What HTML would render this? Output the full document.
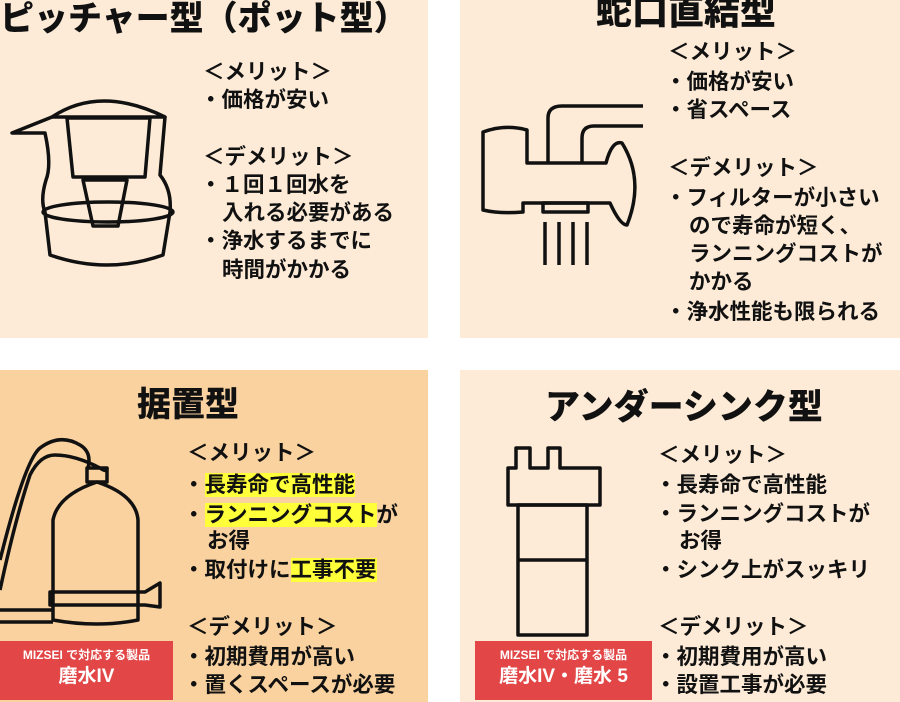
<!DOCTYPE html>
<html><head><meta charset="utf-8">
<style>
*{margin:0;padding:0;box-sizing:border-box}
body{width:900px;height:702px;background:#fff;position:relative;overflow:hidden;font-family:"Liberation Sans","Noto Sans CJK JP",sans-serif;font-weight:bold;color:#111}
.p{position:absolute}
.t{position:absolute;white-space:nowrap;font-size:21.5px;line-height:28px}
.h{position:absolute;white-space:nowrap;font-size:34px;line-height:40px;font-weight:900}
.hl{background:#ffff3a}
.red{position:absolute;background:#e24646;color:#fff;text-align:center}
.red .a{font-size:12px;line-height:16px;margin-top:6px}
.red .b{font-size:19px;line-height:28px}
</style></head><body>
<div class="p" style="left:0;top:0;width:428px;height:338px;background:#fdebd7"></div>
<div class="p" style="left:460px;top:0;width:440px;height:338px;background:#fdebd7"></div>
<div class="p" style="left:0;top:370px;width:428px;height:332px;background:#f9d29f"></div>
<div class="p" style="left:460px;top:370px;width:440px;height:332px;background:#fdebd7"></div>

<svg class="p" style="left:0;top:0" width="900" height="702" fill="none" stroke="#111" stroke-width="3.5" stroke-linejoin="round">
<!-- pitcher -->
<path d="M52 117 Q100 85 165 117 Z"/>
<path d="M52 117 L12 133 L45 133 Q52 165 46 180 Q40 200 45 212 L50 255 Q107 275 163 255 L170 212 Q172 190 160 175 L165 117"/>
<path d="M67 118 L150 118 L145 177 L73 177 Z"/>
<path d="M83 180 L127 180 L118 226 L93 226 Z"/>
<ellipse cx="108" cy="212" rx="65" ry="10"/>
<!-- faucet -->
<path d="M527 163 L527 130 Q505 124 483 132 L483 210 Q500 214 523 212 L523 203 L610 203 Q620 225 627 225 Q645 180 622 143 Q612 140 606 163 Z"/>
<path d="M548 163 L548 118 Q548 106 562 106 L643 106"/>
<path d="M582 163 L582 138 Q582 126 594 126 L643 126"/>
<rect x="543" y="203" width="45" height="9"/>
<path d="M545 222 V265 M559 222 V265 M573 222 V265 M587 222 V265"/>
<!-- countertop -->
<path d="M0 560 Q25 460 40 448 Q60 433 80 445 Q92 452 88 468"/>
<path d="M0 590 Q15 520 30 475 Q40 455 55 455 Q75 455 100 468 Q107 473 107 468"/>
<rect x="87" y="468" width="20" height="14"/>
<path d="M53 620 L53 520 Q58 495 97 482 Q136 495 138 520 L138 620 Q97 628 53 620 Z"/>
<path d="M50 592 L145 592 L160 583 L160 607 L145 605 L50 605 Z"/>
<path d="M0 610 L53 610 M0 622 L53 622"/>
<!-- undersink -->
<path d="M508 505 L508 468 L516 468 L516 448 L530 448 L530 468 L548 468 L548 448 L560 448 L560 468 L600 468 L600 505 Z"/>
<rect x="518" y="505" width="69" height="130"/>
<path d="M518 560 H587"/>
</svg>

<div class="h" style="left:0;top:-1px">ピッチャー型（ポット型）</div>
<div class="t" style="left:203px;top:58px">＜メリット＞</div>
<div class="t" style="left:200px;top:86px">・価格が安い</div>
<div class="t" style="left:203px;top:143px">＜デメリット＞</div>
<div class="t" style="left:200px;top:171px">・１回１回水を</div>
<div class="t" style="left:222px;top:199px">入れる必要がある</div>
<div class="t" style="left:200px;top:227px">・浄水するまでに</div>
<div class="t" style="left:222px;top:256px">時間がかかる</div>

<div class="h" style="left:596px;top:-8px;font-size:36px">蛇口直結型</div>
<div class="t" style="left:668px;top:38px">＜メリット＞</div>
<div class="t" style="left:665px;top:68px">・価格が安い</div>
<div class="t" style="left:665px;top:96px">・省スペース</div>
<div class="t" style="left:668px;top:154px">＜デメリット＞</div>
<div class="t" style="left:665px;top:184px">・フィルターが小さい</div>
<div class="t" style="left:689px;top:212px">ので寿命が短く、</div>
<div class="t" style="left:689px;top:240px">ランニングコストが</div>
<div class="t" style="left:689px;top:268px">かかる</div>
<div class="t" style="left:665px;top:298px">・浄水性能も限られる</div>

<div class="h" style="left:137px;top:385px">据置型</div>
<div class="t" style="left:187px;top:439px">＜メリット＞</div>
<div class="t" style="left:183px;top:471px">・<span class="hl">長寿命で高性能</span></div>
<div class="t" style="left:183px;top:501px">・<span class="hl">ランニングコスト</span>が</div>
<div class="t" style="left:207px;top:527px">お得</div>
<div class="t" style="left:183px;top:556px">・取付けに<span class="hl">工事不要</span></div>
<div class="t" style="left:187px;top:613px">＜デメリット＞</div>
<div class="t" style="left:183px;top:643px">・初期費用が高い</div>
<div class="t" style="left:183px;top:671px">・置くスペースが必要</div>
<div class="red" style="left:0;top:641px;width:173px;height:59px"><div class="a">MIZSEI で対応する製品</div><div class="b">磨水IV</div></div>

<div class="h" style="left:545px;top:388px;font-size:35px">アンダーシンク型</div>
<div class="t" style="left:658px;top:441px">＜メリット＞</div>
<div class="t" style="left:655px;top:471px">・長寿命で高性能</div>
<div class="t" style="left:655px;top:500px">・ランニングコストが</div>
<div class="t" style="left:679px;top:527px">お得</div>
<div class="t" style="left:655px;top:556px">・シンク上がスッキリ</div>
<div class="t" style="left:658px;top:613px">＜デメリット＞</div>
<div class="t" style="left:655px;top:643px">・初期費用が高い</div>
<div class="t" style="left:655px;top:671px">・設置工事が必要</div>
<div class="red" style="left:475px;top:641px;width:177px;height:59px"><div class="a">MIZSEI で対応する製品</div><div class="b">磨水IV・磨水 5</div></div>
</body></html>
